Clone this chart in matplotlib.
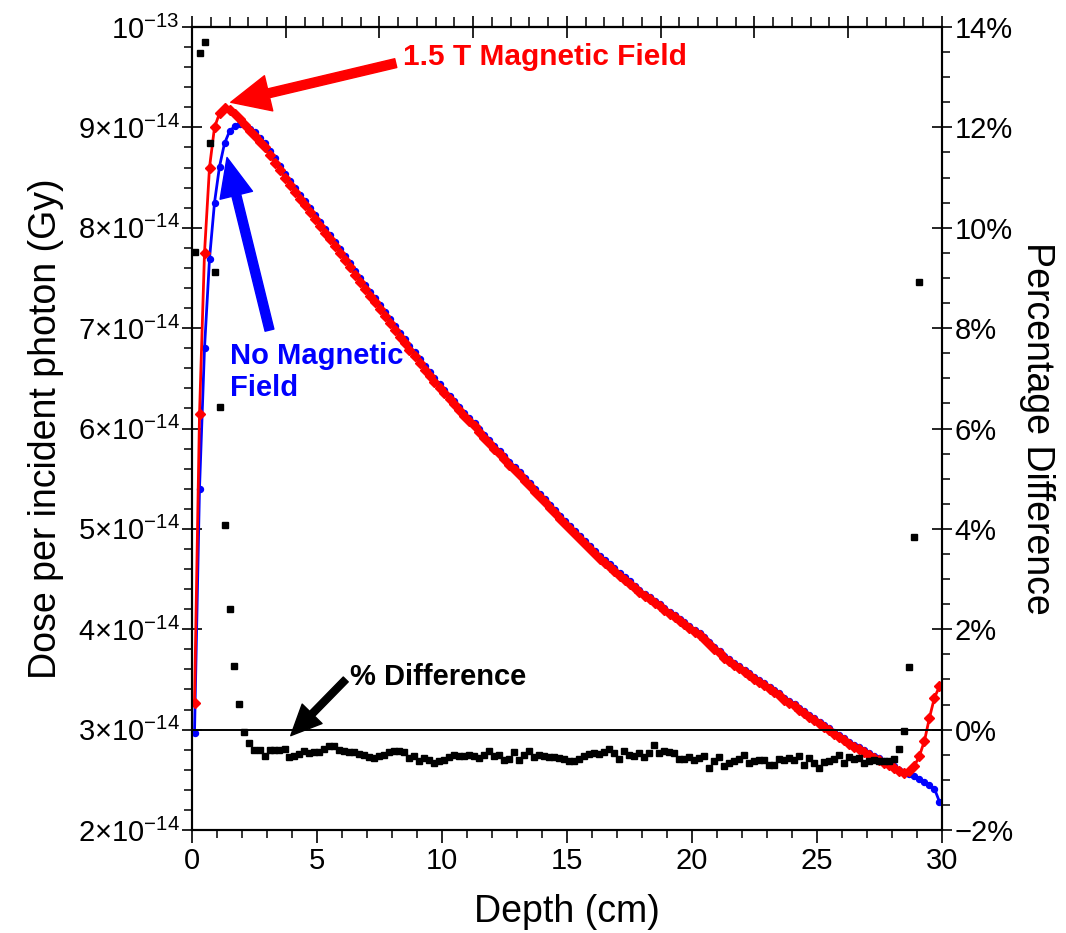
import numpy as np
import matplotlib
matplotlib.use("Agg")
import matplotlib.pyplot as plt
from matplotlib.ticker import MultipleLocator, FuncFormatter, FixedLocator

plt.rcParams['font.family'] = ['Liberation Sans', 'DejaVu Sans']
plt.rcParams['mathtext.fontset'] = 'custom'
plt.rcParams['mathtext.rm'] = 'Liberation Sans'
plt.rcParams['mathtext.it'] = 'Liberation Sans:italic'
plt.rcParams['mathtext.bf'] = 'Liberation Sans:bold'

# ---------------- data ----------------
depth = [round(0.1 + 0.2 * i, 1) for i in range(150)]  # cm, bin centres

# dose per incident photon, units of 1e-14 Gy
dose_no_field = [
    2.97, 5.40, 6.80, 7.69, 8.25, 8.61, 8.84, 8.96, 9.01, 9.03,
    9.02, 8.98, 8.95, 8.89, 8.84, 8.76, 8.69, 8.62, 8.54, 8.47,
    8.40, 8.33, 8.27, 8.20, 8.13, 8.06, 7.99, 7.93, 7.86, 7.79,
    7.72, 7.65, 7.57, 7.50, 7.43, 7.36, 7.30, 7.23, 7.16, 7.09,
    7.02, 6.95, 6.89, 6.82, 6.76, 6.69, 6.62, 6.56, 6.50, 6.44,
    6.38, 6.32, 6.27, 6.21, 6.15, 6.10, 6.05, 6.00, 5.94, 5.89,
    5.83, 5.78, 5.73, 5.67, 5.62, 5.57, 5.51, 5.46, 5.40, 5.35,
    5.30, 5.24, 5.19, 5.13, 5.08, 5.03, 4.98, 4.93, 4.88, 4.83,
    4.78, 4.73, 4.69, 4.65, 4.61, 4.56, 4.52, 4.48, 4.43, 4.39,
    4.35, 4.32, 4.28, 4.25, 4.21, 4.17, 4.14, 4.10, 4.07, 4.03,
    3.99, 3.96, 3.92, 3.87, 3.82, 3.78, 3.73, 3.70, 3.66, 3.63,
    3.59, 3.56, 3.52, 3.49, 3.46, 3.42, 3.39, 3.36, 3.32, 3.29,
    3.26, 3.22, 3.19, 3.15, 3.12, 3.08, 3.05, 3.02, 2.98, 2.95,
    2.92, 2.88, 2.85, 2.83, 2.80, 2.77, 2.74, 2.72, 2.69, 2.67,
    2.64, 2.60, 2.58, 2.56, 2.54, 2.51, 2.48, 2.45, 2.41, 2.28,
]

dose_field = [
    3.27, 6.14, 7.75, 8.60, 9.00, 9.14, 9.19, 9.17, 9.13, 9.08,
    9.02, 8.96, 8.91, 8.85, 8.80, 8.72, 8.65, 8.58, 8.50, 8.43,
    8.36, 8.29, 8.23, 8.16, 8.09, 8.02, 7.95, 7.89, 7.82, 7.75,
    7.68, 7.61, 7.53, 7.46, 7.39, 7.32, 7.26, 7.19, 7.12, 7.05,
    6.98, 6.91, 6.85, 6.78, 6.72, 6.65, 6.58, 6.52, 6.46, 6.40,
    6.35, 6.29, 6.24, 6.18, 6.12, 6.07, 6.02, 5.97, 5.91, 5.86,
    5.80, 5.75, 5.70, 5.64, 5.59, 5.54, 5.48, 5.43, 5.37, 5.32,
    5.27, 5.21, 5.16, 5.10, 5.05, 5.00, 4.95, 4.90, 4.85, 4.80,
    4.75, 4.70, 4.66, 4.62, 4.58, 4.53, 4.49, 4.45, 4.41, 4.37,
    4.33, 4.30, 4.26, 4.23, 4.19, 4.15, 4.12, 4.08, 4.05, 4.01,
    3.97, 3.94, 3.90, 3.85, 3.80, 3.76, 3.71, 3.68, 3.64, 3.61,
    3.57, 3.54, 3.50, 3.47, 3.44, 3.40, 3.37, 3.34, 3.30, 3.27,
    3.24, 3.20, 3.17, 3.13, 3.10, 3.06, 3.03, 3.00, 2.96, 2.93,
    2.90, 2.86, 2.83, 2.81, 2.78, 2.75, 2.72, 2.70, 2.67, 2.65,
    2.62, 2.59, 2.57, 2.59, 2.64, 2.74, 2.89, 3.12, 3.32, 3.43,
]

# percentage difference (field vs no field), visible points only
pct_diff = [
    9.52, 13.48, 13.70, 11.69, 9.12, 6.43, 4.07, 2.41, 1.26, 0.51, -0.05,
    -0.27, -0.40, -0.41, -0.53, -0.41, -0.40, -0.40, -0.38, -0.54, -0.53,
    -0.49, -0.43, -0.47, -0.45, -0.45, -0.38, -0.33, -0.33, -0.40, -0.42,
    -0.45, -0.45, -0.48, -0.50, -0.54, -0.56, -0.53, -0.50, -0.45, -0.43,
    -0.43, -0.45, -0.56, -0.53, -0.63, -0.56, -0.60, -0.66, -0.63, -0.60,
    -0.55, -0.51, -0.53, -0.53, -0.51,
    -0.52, -0.56, -0.50, -0.43, -0.53, -0.50, -0.60, -0.58, -0.45, -0.60,
    -0.51, -0.43, -0.54, -0.51, -0.53, -0.55, -0.55, -0.56, -0.58, -0.62,
    -0.62, -0.59, -0.53, -0.49, -0.47, -0.49, -0.45, -0.38, -0.47, -0.58,
    -0.42, -0.50, -0.53, -0.47, -0.55, -0.47, -0.30, -0.47, -0.42, -0.45,
    -0.47, -0.58, -0.58, -0.55, -0.60,
    -0.56, -0.53, -0.76, -0.63, -0.55, -0.73, -0.66, -0.63, -0.58, -0.51,
    -0.66, -0.62, -0.60, -0.60, -0.70, -0.70, -0.58, -0.60, -0.56, -0.60,
    -0.53, -0.71, -0.56, -0.66, -0.76, -0.64, -0.62, -0.58, -0.51, -0.66,
    -0.55, -0.58, -0.56, -0.66, -0.62, -0.60, -0.63, -0.63, -0.62, -0.58,
    -0.38,
    -0.03, 1.24, 3.84, 8.92,
]

DOSE_UNIT = 1e-14
x_ticks = [0, 5, 10, 15, 20, 25, 30]
pct_ticks = [-2, 0, 2, 4, 6, 8, 10, 12, 14]

# ---------------- figure ----------------
W, H = 1066, 933
fig = plt.figure(figsize=(W / 100, H / 100), dpi=100)
L, R, T, B = 192, 942, 27, 830
ax = fig.add_axes([L / W, 1 - B / H, (R - L) / W, (B - T) / H])
ax2 = ax.twinx()

d = np.array(depth)
blue = np.array(dose_no_field) * DOSE_UNIT
red = np.array(dose_field) * DOSE_UNIT
diff = np.array(pct_diff)

ax.plot(d, blue, color='#0000ff', lw=2.0, marker='o', ms=4.3, mec='#0000ff',
        mfc='#0000ff', zorder=3)
ax.plot(d, red, color='#ff0000', lw=2.0, marker='D', ms=5.0, mec='#ff0000',
        mfc='#ff0000', zorder=4)

ax2.axhline(0, color='black', lw=1.4, zorder=1)
ax2.plot(d[:len(diff)], diff, ls='none', marker='s', ms=5.0, color='black',
         zorder=5)

ax.set_xlim(0, 30)
ax.set_ylim(2 * DOSE_UNIT, 10 * DOSE_UNIT)
ax2.set_ylim(-2, 14)

fs_tick = 21
fs_lab = 27


def dose_fmt(v, pos):
    m = int(round(v / DOSE_UNIT))
    if m == 10:
        return r'$10^{-13}$'
    return r'$%d{\times}10^{-14}$' % m


ax.yaxis.set_major_locator(FixedLocator([k * DOSE_UNIT for k in range(2, 11)]))
ax.yaxis.set_minor_locator(MultipleLocator(0.2 * DOSE_UNIT))
ax.yaxis.set_major_formatter(FuncFormatter(dose_fmt))
ax.xaxis.set_major_locator(FixedLocator(x_ticks))
ax.xaxis.set_minor_locator(MultipleLocator(1))

ax2.yaxis.set_major_locator(FixedLocator(pct_ticks))
ax2.yaxis.set_minor_locator(MultipleLocator(0.5))
ax2.yaxis.set_major_formatter(FuncFormatter(
    lambda v, p: ('\u2212%d%%' % abs(v)) if v < 0 else '%d%%' % v))

for a in (ax, ax2):
    a.tick_params(which='major', direction='inout', length=14, width=1.2,
                  labelsize=fs_tick, pad=2)
    a.tick_params(which='minor', direction='out', length=6, width=1.1)
    for s in a.spines.values():
        s.set_linewidth(1.5)
ax.tick_params(axis='x', which='major', direction='out', length=9, pad=3)
ax.tick_params(axis='x', which='minor', direction='out', length=6)

# top frame ticks (unlabelled)
top = ax.secondary_xaxis('top', functions=(lambda x: x * 8 / 30,
                                           lambda x: x * 30 / 8))
top.xaxis.set_major_locator(MultipleLocator(1))
top.xaxis.set_minor_locator(MultipleLocator(0.2))
top.tick_params(which='major', direction='inout', length=16, width=1.2,
                labeltop=False)
top.tick_params(which='minor', direction='out', length=7, width=1.1)
top.spines['top'].set_linewidth(1.5)

ax.set_xlabel('Depth (cm)', fontsize=fs_lab, labelpad=14)
ax.set_ylabel('Dose per incident photon (Gy)', fontsize=fs_lab, labelpad=10)
ax2.set_ylabel('Percentage Difference', fontsize=fs_lab, rotation=270,
               labelpad=30)

# annotations
ax.annotate('', xy=(1.55, 9.25 * DOSE_UNIT), xytext=(8.15, 9.64 * DOSE_UNIT),
            arrowprops=dict(facecolor='#ff0000', edgecolor='#ff0000',
                            width=6.5, headwidth=26, headlength=28),
            zorder=6)
ax.text(8.45, 9.70 * DOSE_UNIT, '1.5 T Magnetic Field', color='#ff0000',
        fontsize=21.5, fontweight='bold', ha='left', va='center')

ax.annotate('', xy=(1.4, 8.70 * DOSE_UNIT), xytext=(3.1, 6.98 * DOSE_UNIT),
            arrowprops=dict(facecolor='#0000ff', edgecolor='#0000ff',
                            width=6.5, headwidth=24, headlength=28),
            zorder=6)
ax.text(1.5, 6.56 * DOSE_UNIT, 'No Magnetic\nField', color='#0000ff',
        fontsize=21, fontweight='bold', ha='left', va='center',
        linespacing=1.2)

ax.annotate('', xy=(3.95, 2.94 * DOSE_UNIT), xytext=(6.15, 3.5 * DOSE_UNIT),
            arrowprops=dict(facecolor='black', edgecolor='black',
                            width=5, headwidth=20, headlength=22),
            zorder=6)
ax.text(6.3, 3.52 * DOSE_UNIT, '% Difference', color='black',
        fontsize=21, fontweight='bold', ha='left', va='center')

fig.savefig('out.png', dpi=100)
